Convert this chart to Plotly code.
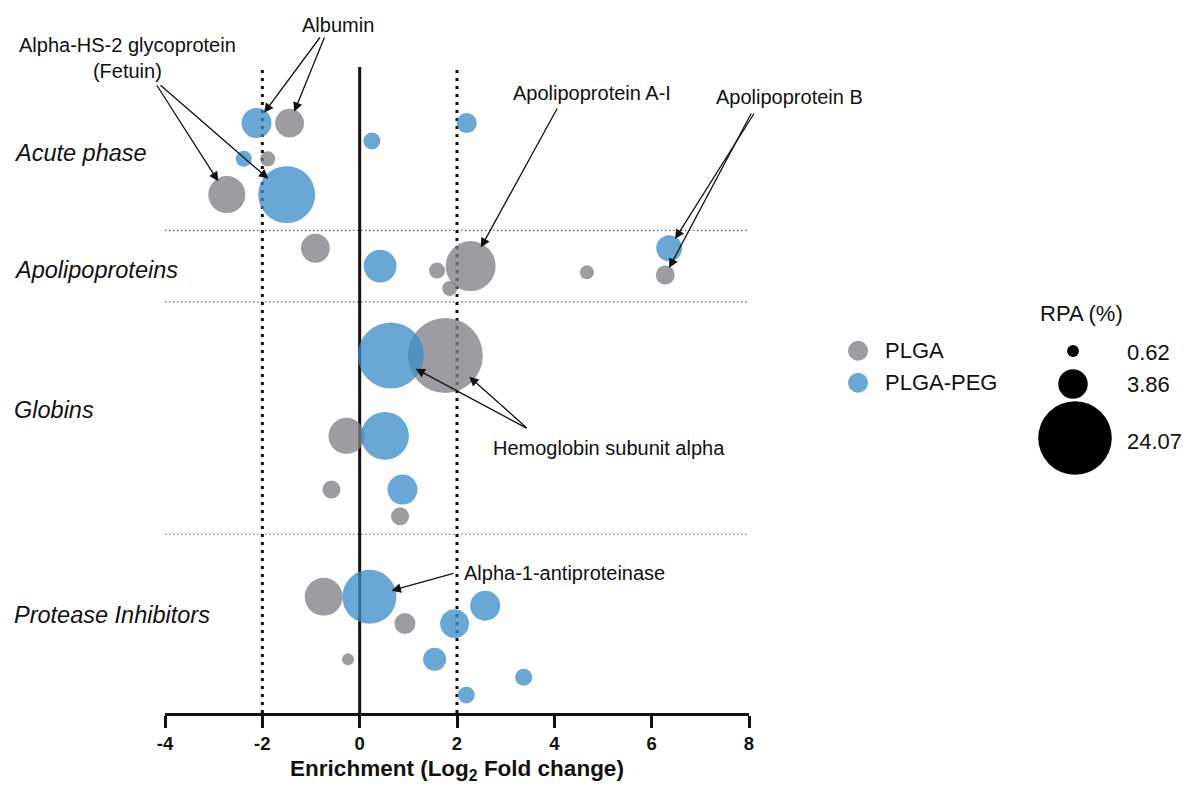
import plotly.graph_objects as go

# ---------------- data ----------------
categories = ["Acute phase", "Apolipoproteins", "Globins", "Protease Inhibitors"]
series_names = ["PLGA", "PLGA-PEG"]

# PLGA (grey)
plga_log2fc = [-1.44, -1.89, -2.73, -0.91, 1.59, 2.28, 1.85, 4.67, 6.28,
               1.76, -0.27, -0.58, 0.83, -0.74, 0.93, -0.24]
plga_row = [33, 31, 29, 26, 24.75, 25, 23.75, 24.65, 24.5,
            20, 15.5, 12.5, 11, 6.5, 5, 3]
plga_rpa = [3.7, 1.0, 6.1, 3.7, 1.14, 11.1, 1.0, 0.87, 1.6,
            25.0, 5.8, 1.44, 1.44, 6.4, 1.96, 0.64]

# PLGA-PEG (blue)
peg_log2fc = [-2.12, 0.25, 2.2, -2.38, -1.50, 0.42, 6.36,
              0.64, 0.52, 0.88, 0.2, 2.58, 1.95, 1.54, 3.37, 2.19]
peg_row = [33, 32, 33, 31, 29, 25, 26,
           20, 15.5, 12.5, 6.5, 6, 5, 3, 2, 1]
peg_rpa = [4.0, 1.28, 1.78, 1.14, 14.4, 4.8, 3.0,
           19.4, 10.2, 4.0, 13.0, 4.0, 3.7, 2.35, 1.28, 1.28]

rpa_legend = [0.62, 3.86, 24.07]
rpa_legend_labels = ["0.62", "3.86", "24.07"]

x_ticks = [-4, -2, 0, 2, 4, 6, 8]
x_ticktext = ["-4", "-2", "0", "2", "4", "6", "8"]
group_bounds = [27, 23, 10]
threshold_lines = [-2, 2]

# ---------------- layout constants ----------------
W, H = 1183, 787
ML, MR, MT, MB = 10, 10, 65, 74
X0_PX, X1_PX, XMIN, XMAX = 165, 749, -4, 8
Y0_PX, Y1_PX, YMIN, YMAX = 713, 65, 0, 36.25
PLOT_W = W - ML - MR
PLOT_H = H - MT - MB
K = 15.0                     # px diameter per sqrt(RPA)
SIZEREF = 2.0 / K ** 2
FONT = "Arial, 'Liberation Sans', Helvetica, sans-serif"
GREY = "rgb(126,126,131)"
BLUE = "rgb(58,140,200)"
OPAC = 0.76

def px2x(px):
    return XMIN + (px - X0_PX) * (XMAX - XMIN) / (X1_PX - X0_PX)

def px2y(py):
    return YMIN + (Y0_PX - py) * (YMAX - YMIN) / (Y0_PX - Y1_PX)

def px2paper(px):
    return (px - ML) / PLOT_W

def py2paper(py):
    return (H - MB - py) / PLOT_H

fig = go.Figure()

series = {
    "PLGA": (plga_log2fc, plga_row, plga_rpa, GREY),
    "PLGA-PEG": (peg_log2fc, peg_row, peg_rpa, BLUE),
}
for name in series_names:
    xs, ys, ss, col = series[name]
    fig.add_trace(go.Scatter(
        x=xs, y=ys, mode="markers", name=name, showlegend=False,
        marker=dict(size=ss, sizemode="area", sizeref=SIZEREF, sizemin=0,
                    color=col, opacity=OPAC, line=dict(width=0)),
        xaxis="x", yaxis="y", cliponaxis=False,
    ))

# ---- legend panel (pixel-space axes) ----
fig.add_trace(go.Scatter(
    x=[858, 858], y=[350.7, 382.7], mode="markers", showlegend=False,
    marker=dict(size=20, color=[GREY, BLUE], opacity=OPAC, line=dict(width=0)),
    xaxis="x2", yaxis="y2", hoverinfo="skip",
))
fig.add_trace(go.Scatter(
    x=[1073, 1073, 1075], y=[351, 384, 438], mode="markers", showlegend=False,
    marker=dict(size=rpa_legend, sizemode="area", sizeref=SIZEREF, sizemin=0,
                color="black", opacity=1, line=dict(width=0)),
    xaxis="x2", yaxis="y2", hoverinfo="skip", cliponaxis=False,
))

annotations = []
# legend texts
for name, yy in zip(series_names, [350.7, 382.7]):
    annotations.append(dict(x=883, y=yy, xref="x2", yref="y2", text=name,
                            showarrow=False, xanchor="left", yanchor="middle",
                            font=dict(family=FONT, size=22, color="#111")))
annotations.append(dict(x=1081, y=313, xref="x2", yref="y2", text="RPA (%)",
                        showarrow=False, xanchor="center", yanchor="middle",
                        font=dict(family=FONT, size=22, color="#111")))
for lab, yy in zip(rpa_legend_labels, [352, 384, 441]):
    annotations.append(dict(x=1125, y=yy, xref="x2", yref="y2", text=lab,
                            showarrow=False, xanchor="left", yanchor="middle",
                            font=dict(family=FONT, size=22, color="#111")))

# category labels
for cat, py in zip(categories, [153, 270, 410, 615]):
    annotations.append(dict(x=px2paper(12), y=py2paper(py), xref="paper", yref="paper",
                            text="<i>%s</i>" % cat, showarrow=False,
                            xanchor="left", yanchor="middle",
                            font=dict(family=FONT, size=23.5, color="#111")))

# protein labels
labels = [
    ("Albumin", 338, 25),
    ("Alpha-HS-2 glycoprotein<br>(Fetuin)", 127, 58),
    ("Apolipoprotein A-I", 592, 93),
    ("Apolipoprotein B", 789, 97),
    ("Hemoglobin subunit alpha", 609, 448),
    ("Alpha-1-antiproteinase", 564, 573),
]
for txt, px, py in labels:
    annotations.append(dict(x=px2paper(px), y=py2paper(py), xref="paper", yref="paper",
                            text=txt, showarrow=False, xanchor="center", yanchor="middle",
                            font=dict(family=FONT, size=20, color="#111")))

# arrows: (series, index, tail px x, tail px y)
arrows = [
    ("PLGA", 0, 325, 36), ("PLGA-PEG", 0, 321, 36),
    ("PLGA", 2, 156, 84), ("PLGA-PEG", 4, 159, 84),
    ("PLGA", 5, 558, 107),
    ("PLGA-PEG", 6, 755, 112), ("PLGA", 8, 752, 112),
    ("PLGA-PEG", 7, 528, 429), ("PLGA", 9, 528, 429),
    ("PLGA-PEG", 10, 455, 573),
]
for name, i, tx, ty in arrows:
    xs, ys, ss, _ = series[name]
    r = K * ss[i] ** 0.5 / 2.0
    annotations.append(dict(x=xs[i], y=ys[i], xref="x", yref="y",
                            ax=px2x(tx), ay=px2y(ty), axref="x", ayref="y",
                            text="", showarrow=True, arrowhead=2, arrowsize=1.45,
                            arrowwidth=1.3, arrowcolor="#111", standoff=r * 0.85))

shapes = []
for yb in group_bounds:
    shapes.append(dict(type="line", xref="x", yref="y", x0=XMIN, x1=XMAX, y0=yb, y1=yb,
                       line=dict(color="#666", width=1.2, dash="1.5px,2.5px"), layer="below"))
for xv in threshold_lines:
    shapes.append(dict(type="line", xref="x", yref="y", x0=xv, x1=xv, y0=0, y1=px2y(70),
                       line=dict(color="#111", width=3, dash="3px,5px"), layer="below"))
shapes.append(dict(type="line", xref="x", yref="y", x0=0, x1=0, y0=0, y1=px2y(67),
                   line=dict(color="#111", width=3), layer="below"))

fig.update_layout(
    width=W, height=H, autosize=False,
    margin=dict(l=ML, r=MR, t=MT, b=MB, autoexpand=False),
    paper_bgcolor="white", plot_bgcolor="white",
    showlegend=False,
    xaxis=dict(domain=[px2paper(X0_PX), px2paper(X1_PX)], range=[XMIN, XMAX],
               tickmode="array", tickvals=x_ticks, ticktext=x_ticktext,
               ticks="outside", ticklen=12, tickwidth=3, tickcolor="#111",
               showline=True, linewidth=3, linecolor="#111",
               showgrid=False, zeroline=False, anchor="y", automargin=False,
               tickfont=dict(family=FONT, size=18.5, color="#111", weight="bold"),
               title=dict(text="Enrichment (Log<sub>2</sub> Fold change)", standoff=8,
                          font=dict(family=FONT, size=22.5, color="#111", weight="bold"))),
    yaxis=dict(domain=[0, 1], range=[YMIN, YMAX], visible=False, anchor="x", automargin=False),
    xaxis2=dict(domain=[px2paper(830), 1.0], range=[830, W - MR], visible=False,
                anchor="y2", automargin=False),
    yaxis2=dict(domain=[0, 1], range=[Y0_PX, Y1_PX], visible=False, anchor="x2",
                automargin=False),
    annotations=annotations,
    shapes=shapes,
)

fig.write_html("out.html", config={"displayModeBar": False},
               post_script="document.body.style.margin='0';document.body.style.overflow='hidden';")
